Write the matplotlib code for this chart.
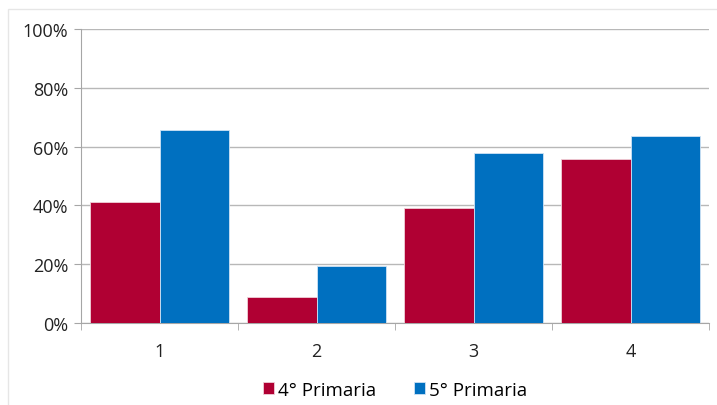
import numpy as np
import matplotlib.pyplot as plt
from matplotlib.patches import Rectangle
from matplotlib.ticker import PercentFormatter, FixedLocator

plt.rcParams["font.family"] = ["Open Sans", "DejaVu Sans"]

# Datos
categorias = ["1", "2", "3", "4"]
cuarto = [41.2, 8.8, 39.1, 55.8]
quinto = [65.6, 19.4, 57.8, 63.6]

rojo = "#B00033"
azul = "#0070C0"

fig = plt.figure(figsize=(7.17, 4.06), dpi=100)
fig.patches.append(Rectangle((0.011, -0.01), 1.0, 0.985, transform=fig.transFigure,
                             fill=False, edgecolor="#E6E6E6", linewidth=1))
ax = fig.add_axes([0.113, 0.202, 0.876, 0.724])

x = np.arange(len(categorias))
w = 0.445
ax.bar(x - w / 2, cuarto, w, color=rojo, edgecolor="#F0D0D8", linewidth=0.6, label="4° Primaria", zorder=3)
ax.bar(x + w / 2, quinto, w, color=azul, edgecolor="#CFE3F5", linewidth=0.6, label="5° Primaria", zorder=3)

ax.set_xlim(-0.5, len(categorias) - 0.5)
ax.set_ylim(0, 100)
ax.set_yticks(range(0, 101, 20))
ax.yaxis.set_major_formatter(PercentFormatter(decimals=0))
ax.set_xticks(x)
ax.set_xticklabels(categorias)
ax.xaxis.set_minor_locator(FixedLocator(np.arange(-0.5, len(categorias), 1.0)))
ax.tick_params(axis="x", which="major", length=0, pad=14, labelsize=13, labelcolor="#222222")
ax.tick_params(axis="x", which="minor", length=5, color="#A6A6A6", direction="out")
ax.tick_params(axis="y", length=5, color="#A6A6A6", pad=4, labelsize=13, labelcolor="#222222")

ax.grid(axis="y", color="#B8B8B8", linewidth=1, zorder=0)
for s in ["top", "right"]:
    ax.spines[s].set_visible(False)
for s in ["left", "bottom"]:
    ax.spines[s].set_color("#A6A6A6")

ax.legend(loc="upper center", bbox_to_anchor=(0.5, -0.14), ncol=2, frameon=False,
          fontsize=13.5, handlelength=0.6, handleheight=0.6, handletextpad=0.2,
          columnspacing=2.0)

fig.savefig("out.png", dpi=100)
